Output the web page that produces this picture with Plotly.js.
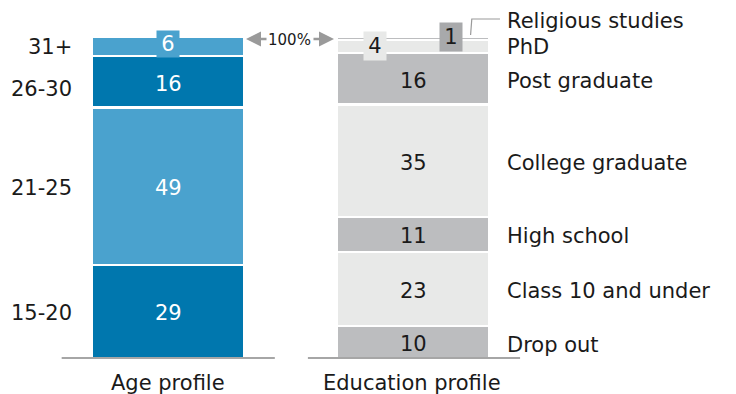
<!DOCTYPE html>
<html>
<head>
<meta charset="utf-8">
<script src="https://cdn.plot.ly/plotly-3.0.1.min.js"></script>
<style>html,body{margin:0;padding:0;background:#fff;}#chart{width:736px;height:394px;}</style>
</head>
<body>
<div id="chart"></div>
<script>
// ---- data ----
const barNames = ['Age profile', 'Education profile'];
const ageCats = ['15-20', '21-25', '26-30', '31+'];
const ageVals = [29, 49, 16, 6];
const eduCats = ['Drop out', 'Class 10 and under', 'High school', 'College graduate', 'Post graduate', 'PhD', 'Religious studies'];
const eduVals = [10, 23, 11, 35, 16, 4, 1];
const totalLabel = '100%';

// ---- styles ----
const DARKBLUE = '#0077ae', LIGHTBLUE = '#4aa2ce';
const GRAY = '#bcbdbf', LIGHTGRAY = '#e8e9e8', DARKGRAY = '#a8a9ab';
const ageColors = [DARKBLUE, LIGHTBLUE, DARKBLUE, LIGHTBLUE];
const eduColors = [GRAY, LIGHTGRAY, GRAY, LIGHTGRAY, GRAY, LIGHTGRAY, GRAY];
const FONT = 'DejaVu Sans, Liberation Sans, Arial, sans-serif';
const TXT = '#1a1a1a';
const FS = 21;
const DY = -2;
const W = 736, H = 394;
const barW = 0.62;
const px2x = p => (p - 168) / 245;

const traces = [];
ageVals.forEach((v, i) => traces.push({
  type: 'bar', x: [0], y: [v], name: ageCats[i], width: barW,
  marker: {color: ageColors[i], line: {color: '#fff', width: 2.4}},
  hoverinfo: 'skip', showlegend: false
}));
eduVals.forEach((v, i) => traces.push({
  type: 'bar', x: [1], y: [v], name: eduCats[i], width: barW,
  marker: {color: eduColors[i], line: {color: '#fff', width: 2.4}},
  hoverinfo: 'skip', showlegend: false
}));

const annotations = [];
const shapes = [];

// age labels
let cum = 0;
ageVals.forEach((v, i) => {
  const c = cum + v / 2;
  cum += v;
  const small = v < 8;
  annotations.push({
    x: 0, y: c, xref: 'x', yref: 'y', text: String(v), showarrow: false,
    font: {family: FONT, size: FS, color: '#fff'},
    bgcolor: small ? LIGHTBLUE : 'rgba(0,0,0,0)',
    width: small ? 20 : undefined, height: small ? 24 : undefined,
    yshift: small ? 3 : DY
  });
  annotations.push({
    x: 0, y: c, xref: 'x', yref: 'y', text: ageCats[i], showarrow: false,
    xanchor: 'right', xshift: -94, yshift: (i === 2 ? -5 : 0) + (small ? 0 : DY),
    font: {family: FONT, size: FS, color: TXT}
  });
});

// education labels
cum = 0;
eduVals.forEach((v, i) => {
  const c = cum + v / 2;
  cum += v;
  let xs = 0, ys = DY, bg = 'rgba(0,0,0,0)', w, h;
  if (eduCats[i] === 'PhD') { xs = -38; ys = 1; bg = LIGHTGRAY; w = 20; h = 26; }
  if (eduCats[i] === 'Religious studies') { xs = 38; ys = 2; bg = DARKGRAY; w = 20; h = 26; }
  annotations.push({
    x: 1, y: c, xref: 'x', yref: 'y', text: String(v), showarrow: false,
    font: {family: FONT, size: FS, color: TXT}, bgcolor: bg, width: w, height: h,
    xshift: xs, yshift: ys
  });
  let ly = DY;
  if (eduCats[i] === 'Religious studies') ly = 18;
  if (eduCats[i] === 'PhD') ly = 0;
  if (eduCats[i] === 'Drop out') ly = -3;
  if (eduCats[i] === 'Post graduate') ly = -2;
  annotations.push({
    x: 1, y: c, xref: 'x', yref: 'y', text: eduCats[i], showarrow: false,
    xanchor: 'left', xshift: 92, yshift: ly,
    font: {family: FONT, size: FS, color: TXT}
  });
});

// bottom category labels
barNames.forEach((n, i) => annotations.push({
  x: i, y: 0, xref: 'x', yref: 'y', text: n, showarrow: false,
  yanchor: 'middle', yshift: -25, xshift: i === 1 ? -1 : 0,
  font: {family: FONT, size: FS, color: TXT}
}));

// 100% marker with arrows
annotations.push({
  x: 0.5, y: 100, xref: 'x', yref: 'y', text: totalLabel, showarrow: false,
  xshift: -1, yshift: -3, font: {family: FONT, size: 15, color: TXT}
});
annotations.push({
  x: px2x(246), y: 99.4, xref: 'x', yref: 'y', text: '', showarrow: true,
  ax: 22, ay: 0, arrowhead: 2, arrowsize: 1.2, arrowwidth: 2.5,
  arrowcolor: '#9a9a9a', standoff: 0, startstandoff: 0
});
annotations.push({
  x: px2x(334), y: 99.4, xref: 'x', yref: 'y', text: '', showarrow: true,
  ax: -22, ay: 0, arrowhead: 2, arrowsize: 1.2, arrowwidth: 2.5,
  arrowcolor: '#9a9a9a', standoff: 0, startstandoff: 0
});

// baselines
shapes.push({type: 'line', xref: 'x', yref: 'y', x0: -0.434, x1: 0.436, y0: 0, y1: 0, line: {color: '#a6a6a6', width: 2}});
shapes.push({type: 'line', xref: 'x', yref: 'y', x0: 0.571, x1: 1.437, y0: 0, y1: 0, line: {color: '#a6a6a6', width: 2}});
// leader for Religious studies
shapes.push({type: 'path', xref: 'x', yref: 'y',
  path: 'M 1.235 100.6 L 1.24 105.6 L 1.355 105.6', line: {color: '#9a9a9a', width: 1.2}});

const layout = {
  width: W, height: H,
  margin: {l: 0, r: 0, t: 0, b: 0},
  paper_bgcolor: '#fff', plot_bgcolor: '#fff',
  barmode: 'stack', bargap: 0,
  showlegend: false,
  xaxis: {range: [px2x(0), px2x(W)], visible: false, fixedrange: true},
  yaxis: {range: [-(H - 358) / 3.21, 100 + 37 / 3.21], visible: false, fixedrange: true},
  annotations: annotations,
  shapes: shapes
};
Plotly.newPlot('chart', traces, layout, {staticPlot: true, displayModeBar: false});
</script>
</body>
</html>
